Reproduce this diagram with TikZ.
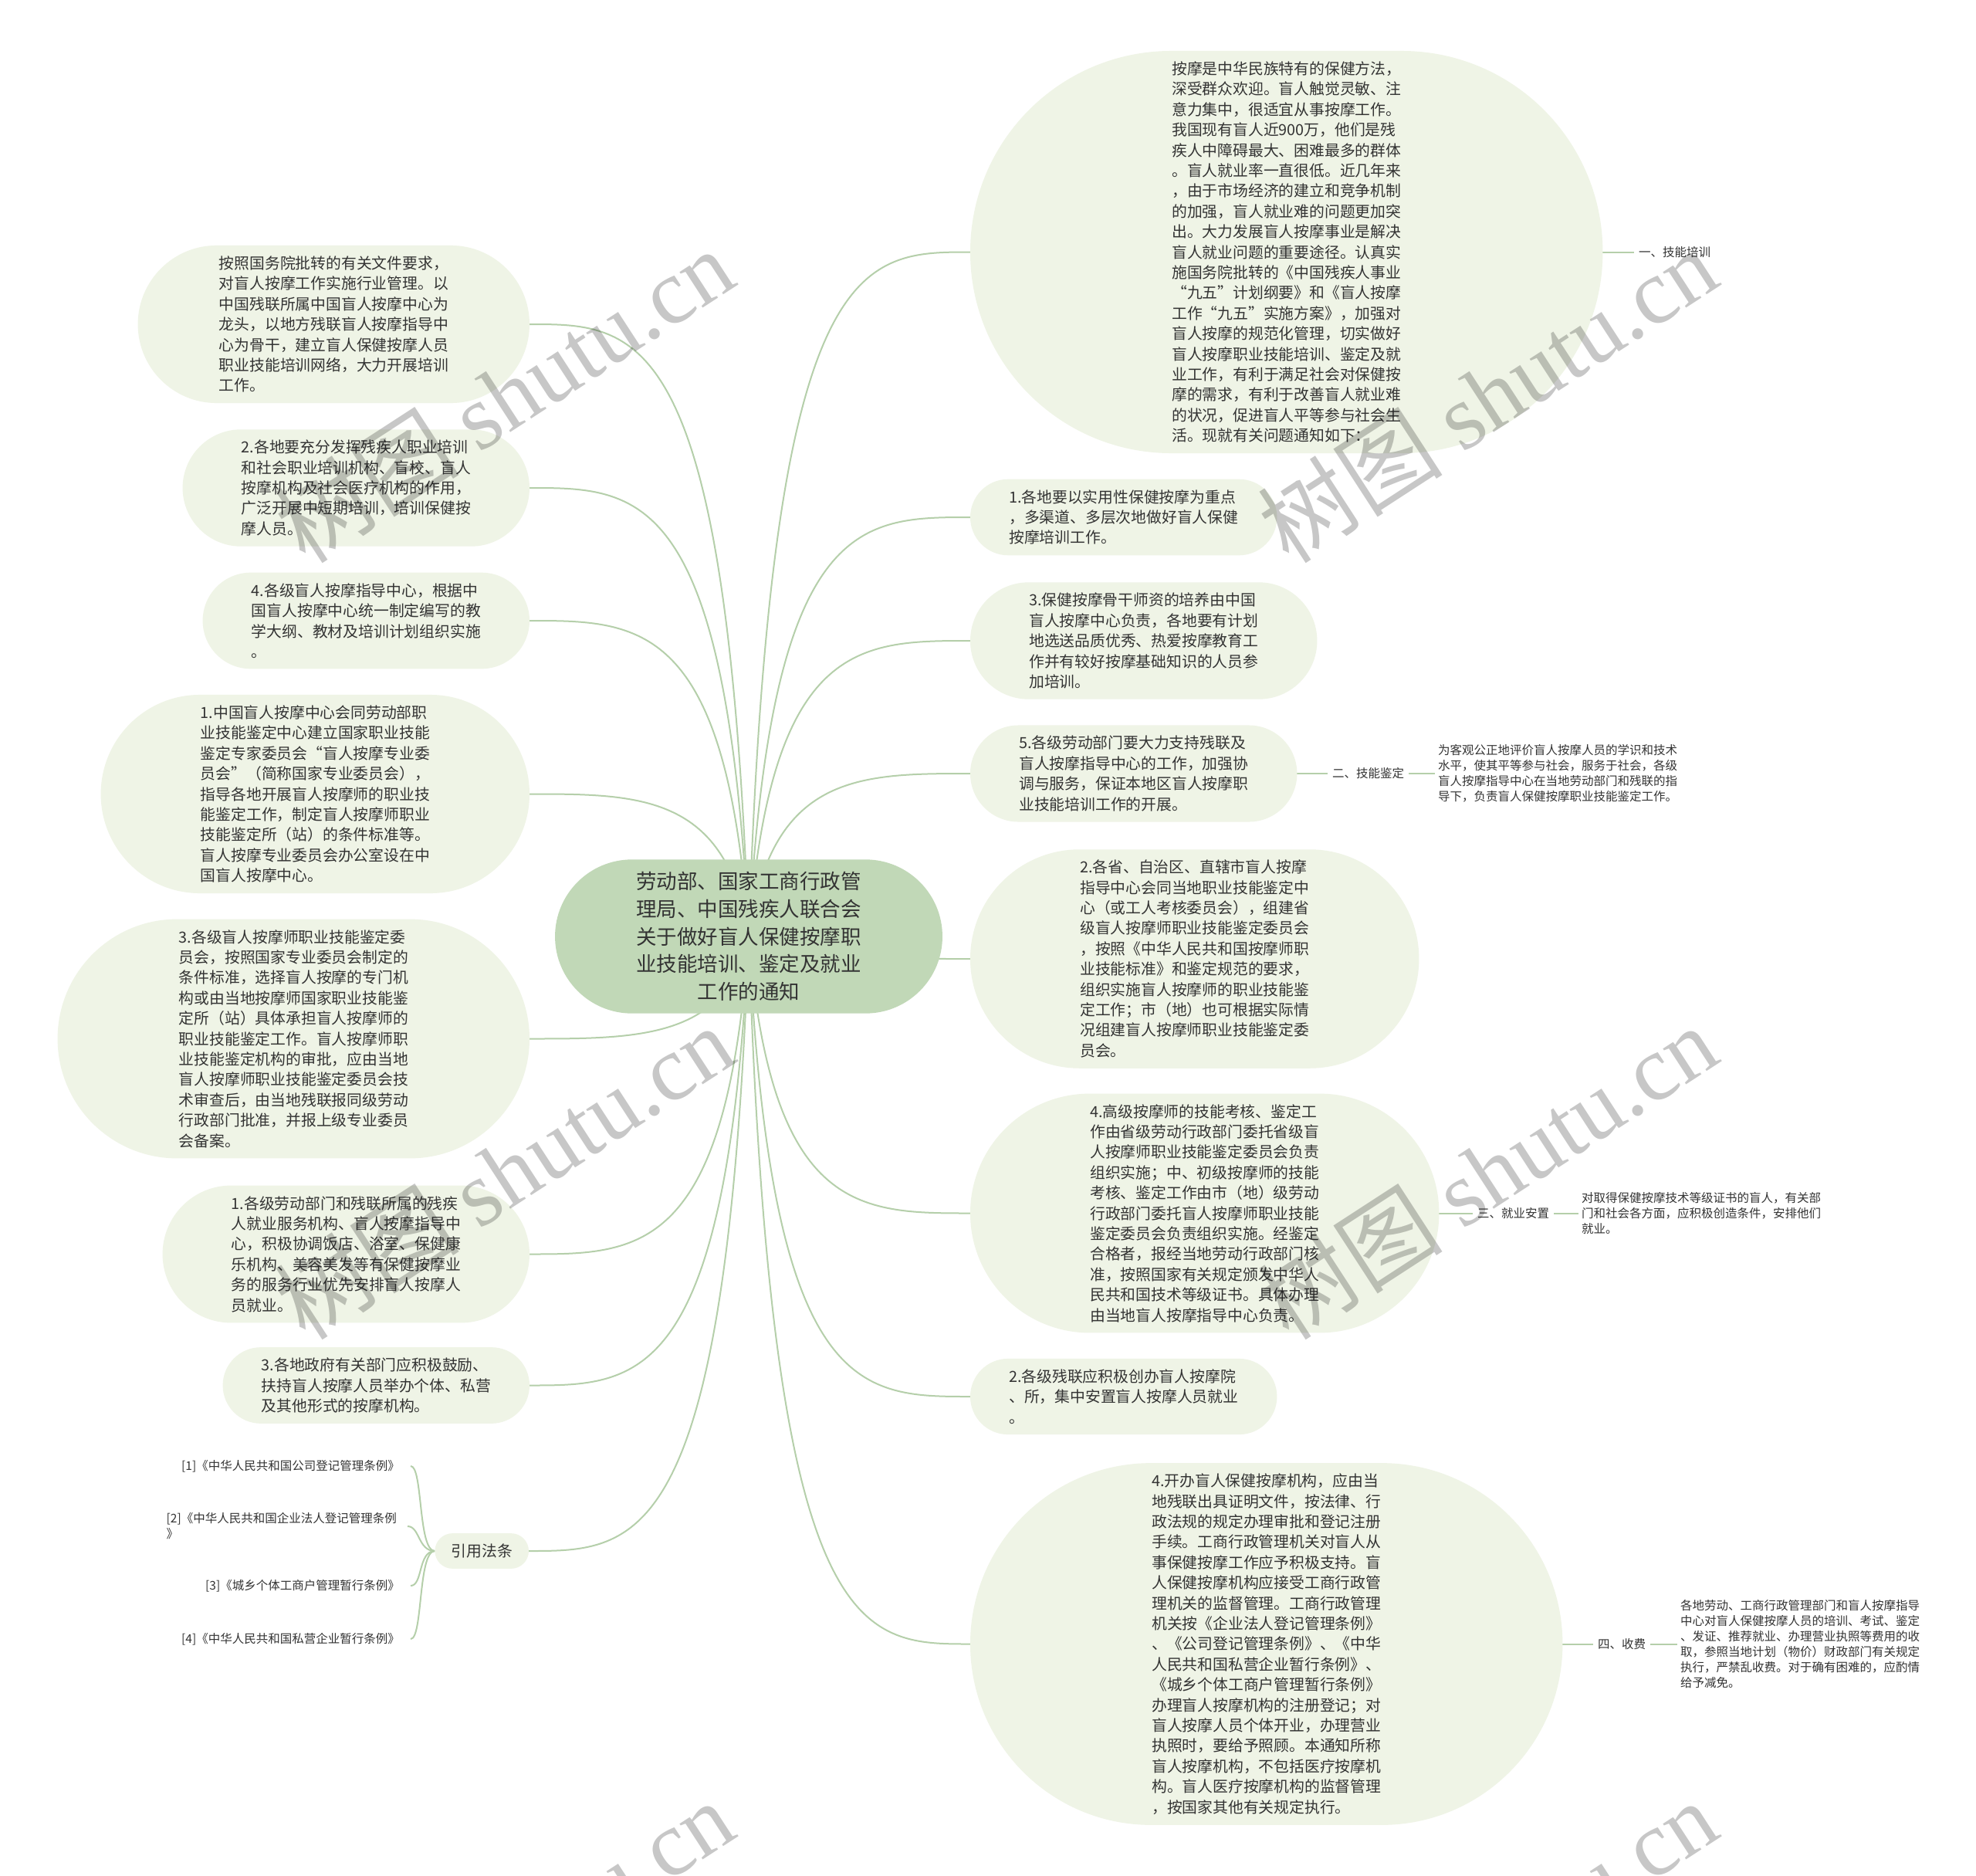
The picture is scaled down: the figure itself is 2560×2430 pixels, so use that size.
\documentclass[tikz,border=0pt]{standalone}
\usepackage{fontspec}
\setmainfont{Noto Sans CJK SC}
\newfontfamily\wmserif{Liberation Serif}
\usetikzlibrary{backgrounds,calc}
\definecolor{linec}{HTML}{B5CFAA}
\definecolor{nodef}{HTML}{EFF4E6}
\definecolor{rootf}{HTML}{C1D8B7}
\definecolor{txt}{HTML}{333333}
\newcommand\mmconn[2]{\draw[conn] let \p1=(#1), \p2=(#2) in (\p1) .. controls ({\x1+0.1*(\x2-\x1)}, \y2) and ({\x1+0.5*(\x2-\x1)}, \y2) .. (\p2);}
\newcommand\mmref[1]{\draw[conn] (lawhub.west) .. controls +(-22,0) and +(16,0) .. (#1.east);}
\newcommand\stad[2]{\path[fill=#2] let \p1=(#1.north west), \p2=(#1.south east), \n1={0.4999*(\y1-\y2)} in [rounded corners=\n1] (\p1) rectangle (\p2);}
\tikzset{
  conn/.style={draw=linec, line width=2pt},
  topic/.style={rectangle, inner xsep=#1, inner ysep=13.5pt, align=left, text=txt, font=\fontsize{19.8}{26.4}\selectfont},
  rootnode/.style={rectangle, inner xsep=105pt, inner ysep=16pt, align=center, text=txt, font=\fontsize{26.5}{35.6}\selectfont},
  small/.style={inner xsep=6pt, inner ysep=2pt, align=left, text=txt, font=\fontsize{15.5}{20}\selectfont},
  refnode/.style={small, inner xsep=14pt, anchor=east},
  wm/.style={text=black, text opacity=0.22, rotate=33, font=\fontsize{120}{120}\selectfont, inner sep=0pt}
}
\begin{document}
\begin{tikzpicture}[x=1pt,y=-1pt]
\useasboundingbox (0,0) rectangle (2560,2430);

% root
\node[rootnode] (root) at (970,1213) {劳动部、国家工商行政管\\理局、中国残疾人联合会\\关于做好盲人保健按摩职\\业技能培训、鉴定及就业\\工作的通知};

% right side
\node[topic=261pt, anchor=west] (r1) at (1257,326.5) {按摩是中华民族特有的保健方法，\\深受群众欢迎。盲人触觉灵敏、注\\意力集中，很适宜从事按摩工作。\\我国现有盲人近900万，他们是残\\疾人中障碍最大、困难最多的群体\\。盲人就业率一直很低。近几年来\\，由于市场经济的建立和竞争机制\\的加强，盲人就业难的问题更加突\\出。大力发展盲人按摩事业是解决\\盲人就业问题的重要途径。认真实\\施国务院批转的《中国残疾人事业\\“九五”计划纲要》和《盲人按摩\\工作“九五”实施方案》，加强对\\盲人按摩的规范化管理，切实做好\\盲人按摩职业技能培训、鉴定及就\\业工作，有利于满足社会对保健按\\摩的需求，有利于改善盲人就业难\\的状况，促进盲人平等参与社会生\\活。现就有关问题通知如下：};
\node[small, anchor=west] (lab1) at (2117,326.5) {一、技能培训};

\node[topic=50pt, anchor=west] (r2) at (1257,670) {1.各地要以实用性保健按摩为重点\\，多渠道、多层次地做好盲人保健\\按摩培训工作。};

\node[topic=76pt, anchor=west] (r3) at (1257,830) {3.保健按摩骨干师资的培养由中国\\盲人按摩中心负责，各地要有计划\\地选送品质优秀、热爱按摩教育工\\作并有较好按摩基础知识的人员参\\加培训。};

\node[topic=63pt, anchor=west] (r4) at (1257,1002) {5.各级劳动部门要大力支持残联及\\盲人按摩指导中心的工作，加强协\\调与服务，保证本地区盲人按摩职\\业技能培训工作的开展。};
\node[small, anchor=west] (lab2) at (1720,1002) {二、技能鉴定};
\node[small, anchor=west, inner xsep=4pt] (desc2) at (1859,1002) {为客观公正地评价盲人按摩人员的学识和技术\\水平，使其平等参与社会，服务于社会，各级\\盲人按摩指导中心在当地劳动部门和残联的指\\导下，负责盲人保健按摩职业技能鉴定工作。};

\node[topic=142pt, anchor=west] (r5) at (1257,1242) {2.各省、自治区、直辖市盲人按摩\\指导中心会同当地职业技能鉴定中\\心（或工人考核委员会），组建省\\级盲人按摩师职业技能鉴定委员会\\，按照《中华人民共和国按摩师职\\业技能标准》和鉴定规范的要求，\\组织实施盲人按摩师的职业技能鉴\\定工作；市（地）也可根据实际情\\况组建盲人按摩师职业技能鉴定委\\员会。};

\node[topic=155pt, anchor=west] (r6) at (1257,1571.5) {4.高级按摩师的技能考核、鉴定工\\作由省级劳动行政部门委托省级盲\\人按摩师职业技能鉴定委员会负责\\组织实施；中、初级按摩师的技能\\考核、鉴定工作由市（地）级劳动\\行政部门委托盲人按摩师职业技能\\鉴定委员会负责组织实施。经鉴定\\合格者，报经当地劳动行政部门核\\准，按照国家有关规定颁发中华人\\民共和国技术等级证书。具体办理\\由当地盲人按摩指导中心负责。};
\node[small, anchor=west] (lab3) at (1908,1571.5) {三、就业安置};
\node[small, anchor=west, inner xsep=4pt] (desc3) at (2045,1571.5) {对取得保健按摩技术等级证书的盲人，有关部\\门和社会各方面，应积极创造条件，安排他们\\就业。};

\node[topic=50pt, anchor=west] (r7) at (1257,1809) {2.各级残联应积极创办盲人按摩院\\、所，集中安置盲人按摩人员就业\\。};

\node[topic=235pt, anchor=west] (r8) at (1257,2129.5) {4.开办盲人保健按摩机构，应由当\\地残联出具证明文件，按法律、行\\政法规的规定办理审批和登记注册\\手续。工商行政管理机关对盲人从\\事保健按摩工作应予积极支持。盲\\人保健按摩机构应接受工商行政管\\理机关的监督管理。工商行政管理\\机关按《企业法人登记管理条例》\\、《公司登记管理条例》、《中华\\人民共和国私营企业暂行条例》、\\《城乡个体工商户管理暂行条例》\\办理盲人按摩机构的注册登记；对\\盲人按摩人员个体开业，办理营业\\执照时，要给予照顾。本通知所称\\盲人按摩机构，不包括医疗按摩机\\构。盲人医疗按摩机构的监督管理\\，按国家其他有关规定执行。};
\node[small, anchor=west] (lab4) at (2064,2129.5) {四、收费};
\node[small, anchor=west, inner xsep=4pt] (desc4) at (2173,2129.5) {各地劳动、工商行政管理部门和盲人按摩指导\\中心对盲人保健按摩人员的培训、考试、鉴定\\、发证、推荐就业、办理营业执照等费用的收\\取，参照当地计划（物价）财政部门有关规定\\执行，严禁乱收费。对于确有困难的，应酌情\\给予减免。};

% left side
\node[topic=105pt, anchor=east] (l1) at (686,420) {按照国务院批转的有关文件要求，\\对盲人按摩工作实施行业管理。以\\中国残联所属中国盲人按摩中心为\\龙头，以地方残联盲人按摩指导中\\心为骨干，建立盲人保健按摩人员\\职业技能培训网络，大力开展培训\\工作。};

\node[topic=76pt, anchor=east] (l2) at (686,632) {2.各地要充分发挥残疾人职业培训\\和社会职业培训机构、盲校、盲人\\按摩机构及社会医疗机构的作用，\\广泛开展中短期培训，培训保健按\\摩人员。};

\node[topic=63pt, anchor=east] (l3) at (686,804) {4.各级盲人按摩指导中心，根据中\\国盲人按摩中心统一制定编写的教\\学大纲、教材及培训计划组织实施\\。};

\node[topic=129pt, anchor=east] (l4) at (686,1028.5) {1.中国盲人按摩中心会同劳动部职\\业技能鉴定中心建立国家职业技能\\鉴定专家委员会“盲人按摩专业委\\员会”（简称国家专业委员会），\\指导各地开展盲人按摩师的职业技\\能鉴定工作，制定盲人按摩师职业\\技能鉴定所（站）的条件标准等。\\盲人按摩专业委员会办公室设在中\\国盲人按摩中心。};

\node[topic=157pt, anchor=east] (l5) at (686,1345.5) {3.各级盲人按摩师职业技能鉴定委\\员会，按照国家专业委员会制定的\\条件标准，选择盲人按摩的专门机\\构或由当地按摩师国家职业技能鉴\\定所（站）具体承担盲人按摩师的\\职业技能鉴定工作。盲人按摩师职\\业技能鉴定机构的审批，应由当地\\盲人按摩师职业技能鉴定委员会技\\术审查后，由当地残联报同级劳动\\行政部门批准，并报上级专业委员\\会备案。};

\node[topic=89pt, anchor=east] (l6) at (686,1624.5) {1.各级劳动部门和残联所属的残疾\\人就业服务机构、盲人按摩指导中\\心，积极协调饭店、浴室、保健康\\乐机构、美容美发等有保健按摩业\\务的服务行业优先安排盲人按摩人\\员就业。};

\node[topic=50pt, anchor=east] (l7) at (686,1794.5) {3.各地政府有关部门应积极鼓励、\\扶持盲人按摩人员举办个体、私营\\及其他形式的按摩机构。};

\node[topic=21pt, anchor=east, align=center] (lawhub) at (685,2009) {引用法条};

\node[refnode] (ref1) at (532,1899) {[1]《中华人民共和国公司登记管理条例》};
\node[refnode] (ref2) at (528,1977) {[2]《中华人民共和国企业法人登记管理条例\\》};
\node[refnode] (ref3) at (532,2054) {[3]《城乡个体工商户管理暂行条例》};
\node[refnode] (ref4) at (532,2123) {[4]《中华人民共和国私营企业暂行条例》};

% connectors and node backgrounds
\begin{pgfonlayer}{background}
\fill[white] (0,0) rectangle (2560,2430);
\mmconn{root.center}{r1.west}
\mmconn{root.center}{r2.west}
\mmconn{root.center}{r3.west}
\mmconn{root.center}{r4.west}
\mmconn{root.center}{r5.west}
\mmconn{root.center}{r6.west}
\mmconn{root.center}{r7.west}
\mmconn{root.center}{r8.west}
\mmconn{root.center}{l1.east}
\mmconn{root.center}{l2.east}
\mmconn{root.center}{l3.east}
\mmconn{root.center}{l4.east}
\mmconn{root.center}{l5.east}
\mmconn{root.center}{l6.east}
\mmconn{root.center}{l7.east}
\mmconn{root.center}{lawhub.east}
\draw[conn] (r1.east) -- (lab1.west);
\draw[conn] (r4.east) -- (lab2.west);
\draw[conn] (lab2.east) -- (desc2.west);
\draw[conn] (r6.east) -- (lab3.west);
\draw[conn] (lab3.east) -- (desc3.west);
\draw[conn] (r8.east) -- (lab4.west);
\draw[conn] (lab4.east) -- (desc4.west);
\mmref{ref1}
\mmref{ref2}
\mmref{ref3}
\mmref{ref4}
\stad{root}{rootf}
\stad{r1}{nodef}
\stad{r2}{nodef}
\stad{r3}{nodef}
\stad{r4}{nodef}
\stad{r5}{nodef}
\stad{r6}{nodef}
\stad{r7}{nodef}
\stad{r8}{nodef}
\stad{l1}{nodef}
\stad{l2}{nodef}
\stad{l3}{nodef}
\stad{l4}{nodef}
\stad{l5}{nodef}
\stad{l6}{nodef}
\stad{l7}{nodef}
\stad{lawhub}{nodef}
\end{pgfonlayer}

% watermarks
\begin{scope}
\clip (0,0) rectangle (2560,2430);
\node[wm] (wm1) at (653,512) {树图 {\wmserif shutu.cn}};
\node[wm] (wm2) at (1927,512) {树图 {\wmserif shutu.cn}};
\node[wm] (wm3) at (653,1518) {树图 {\wmserif shutu.cn}};
\node[wm] (wm4) at (1927,1518) {树图 {\wmserif shutu.cn}};
\node[wm] (wm5) at (653,2522) {树图 {\wmserif shutu.cn}};
\node[wm] (wm6) at (1927,2522) {树图 {\wmserif shutu.cn}};
\end{scope}
\end{tikzpicture}
\end{document}
